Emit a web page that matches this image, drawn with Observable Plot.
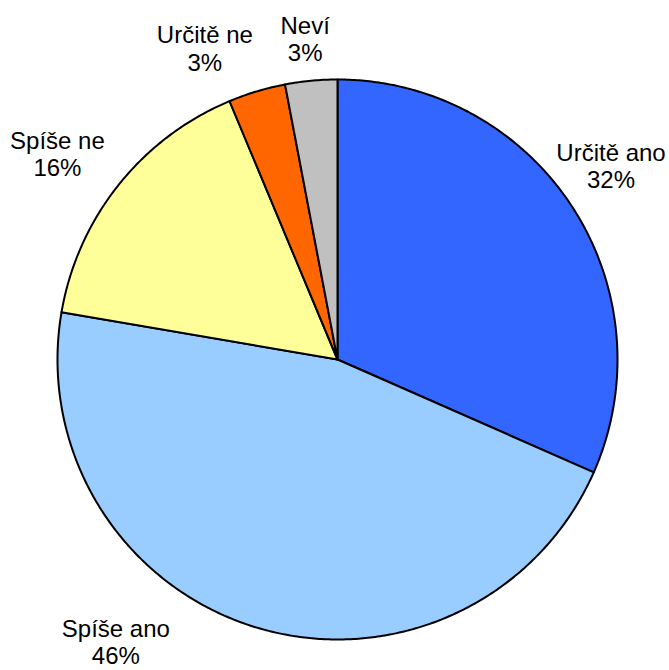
<!DOCTYPE html>
<html>
<head>
<meta charset="utf-8">
<script src="https://cdn.jsdelivr.net/npm/d3@7"></script>
<script src="https://cdn.jsdelivr.net/npm/@observablehq/plot@0.6"></script>
<style>
  html, body { margin: 0; padding: 0; background: #fff; }
  #chart svg { display: block; }
</style>
</head>
<body>
<div id="chart"></div>
<script>
// ---- data ----
const categories = ["Určitě ano", "Spíše ano", "Spíše ne", "Určitě ne", "Neví"];
const values = [31.6, 46.1, 16.0, 3.3, 3.0];
const percentLabels = ["32%", "46%", "16%", "3%", "3%"];
const colors = ["#3366FF", "#99CCFF", "#FFFF99", "#FF6600", "#C0C0C0"];

// ---- layout (pixel offsets of labels from slice mid-angle rim point) ----
const labelOffsets = [[39, -41], [-141, 14], [-61, -31], [-52, -43], [-6, -42]];
const R_PX = 280;

const pie = d3.pie().sort(null).value(d => d)(values);

// build slice outlines from pie angles
const slicePts = [];
pie.forEach((p, i) => {
  const name = categories[i];
  slicePts.push({name, x: 0, y: 0});
  const steps = Math.max(2, Math.ceil((p.endAngle - p.startAngle) / (Math.PI / 360)));
  for (let k = 0; k <= steps; k++) {
    const a = p.startAngle + (p.endAngle - p.startAngle) * k / steps;
    slicePts.push({name, x: Math.sin(a), y: Math.cos(a)});
  }
});

const labels = pie.map((p, i) => {
  const mid = (p.startAngle + p.endAngle) / 2;
  return {
    text: categories[i] + "\n" + percentLabels[i],
    x: Math.sin(mid) + labelOffsets[i][0] / R_PX,
    y: Math.cos(mid) - labelOffsets[i][1] / R_PX
  };
});

const chart = Plot.plot({
  width: 669,
  height: 670,
  margin: 0,
  x: {domain: [-1, 1], range: [57, 617], axis: null},
  y: {domain: [-1, 1], range: [639, 79], axis: null},
  color: {domain: categories, range: colors},
  style: {fontFamily: "'Liberation Sans', Arial, Helvetica, sans-serif", background: "#fff"},
  marks: [
    Plot.line(slicePts, {
      x: "x", y: "y", z: "name", fill: "name",
      stroke: "#000", strokeWidth: 2, strokeLinejoin: "round",
      curve: "linear-closed"
    }),
    Plot.text(labels, {
      x: "x", y: "y", text: "text",
      fontSize: 24, lineHeight: 1.13, fill: "#000", textAnchor: "middle"
    })
  ]
});

document.getElementById("chart").appendChild(chart);
</script>
</body>
</html>
